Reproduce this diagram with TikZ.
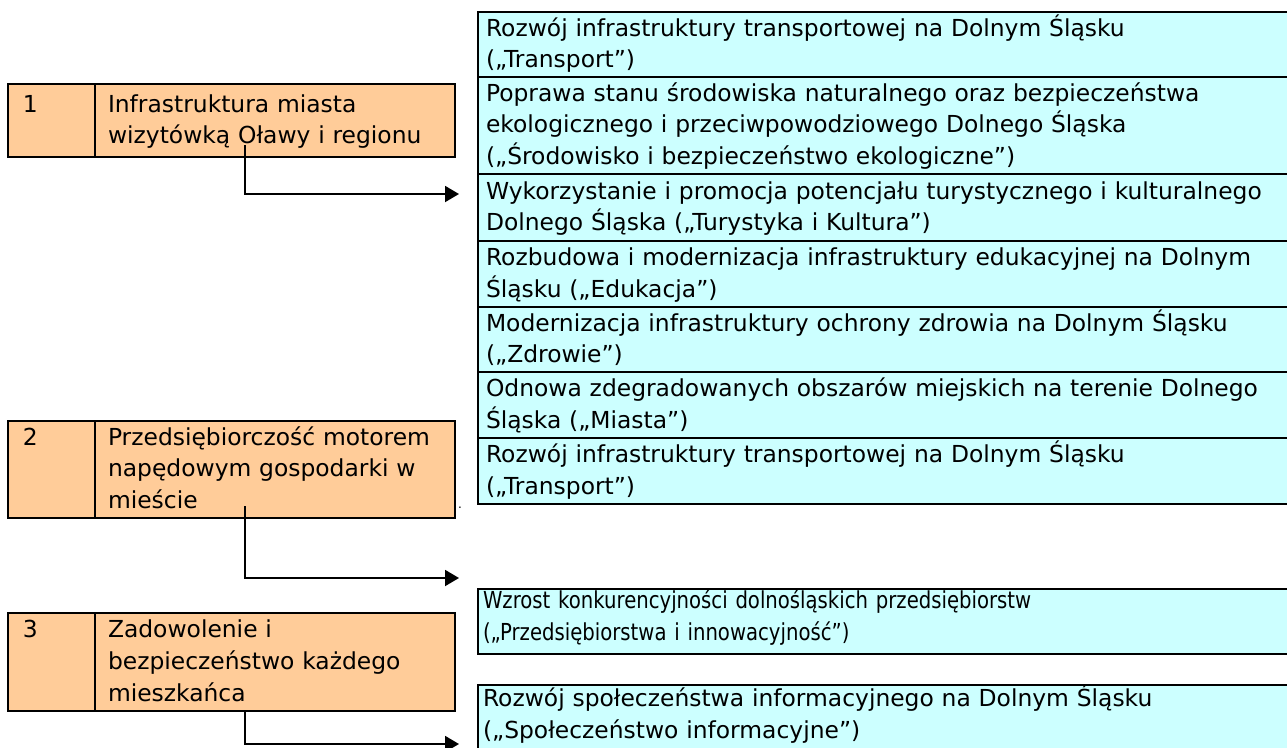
\documentclass[tikz,border=0pt]{standalone}
\usepackage{fontspec}
\setmainfont{DejaVu Sans}
\newfontfamily\condfont[FakeStretch=0.84]{DejaVu Sans}
\usetikzlibrary{arrows.meta}
\definecolor{boxorange}{HTML}{FFCC99}
\definecolor{boxcyan}{HTML}{CCFFFF}
\newcommand{\ls}{\rule[-8.5pt]{0pt}{31.8pt}}
\newcommand{\lb}{\rule[-12.8pt]{0pt}{31.8pt}}
\begin{document}
\begin{tikzpicture}[x=1pt,y=-1pt,
  every node/.style={font=\fontsize{23.4}{31.8}\selectfont, inner sep=0pt, outer sep=0pt},
  numcell/.style={draw, line width=1.9pt, fill=boxorange, anchor=north west, align=left,
    text width=57pt, inner xsep=15pt},
  goalcell/.style={draw, line width=1.9pt, fill=boxorange, anchor=north west, align=left,
    text width=334pt, inner xsep=13pt},
  prio/.style={draw, line width=1.8pt, fill=boxcyan, anchor=north west, align=left,
    text width=806pt, inner xsep=8pt},
  prioc/.style={draw, line width=1.8pt, fill=boxcyan, anchor=north west, align=left,
    text width=812pt, inner xsep=5pt, font=\condfont\fontsize{23.4}{31.8}\selectfont},
  prioplain/.style={draw, line width=1.8pt, fill=boxcyan, anchor=north west, align=left,
    text width=812pt, inner xsep=5pt},
  conn/.style={line width=1.9pt, -{Triangle[length=14pt,width=16pt]}}
]
\useasboundingbox (0,0) rectangle (1287,747);

% right column, upper stack
\node[prio, minimum height=65pt] (r1) at (478,12)
  {\ls Rozwój infrastruktury transportowej na Dolnym Śląsku\\\ls („Transport”)};
\node[prio, minimum height=97pt] (r2) at (478,77)
  {\ls Poprawa stanu środowiska naturalnego oraz bezpieczeństwa\\\ls ekologicznego i przeciwpowodziowego Dolnego Śląska\\\ls („Środowisko i bezpieczeństwo ekologiczne”)};
\node[prio, minimum height=67pt] (r3) at (478,174)
  {\ls Wykorzystanie i promocja potencjału turystycznego i kulturalnego\\\ls Dolnego Śląska („Turystyka i Kultura”)};
\node[prio, minimum height=66pt] (r4) at (478,241)
  {\ls Rozbudowa i modernizacja infrastruktury edukacyjnej na Dolnym\\\ls Śląsku („Edukacja”)};
\node[prio, minimum height=65pt] (r5) at (478,307)
  {\ls Modernizacja infrastruktury ochrony zdrowia na Dolnym Śląsku\\\ls („Zdrowie”)};
\node[prio, minimum height=66pt] (r6) at (478,372)
  {\ls Odnowa zdegradowanych obszarów miejskich na terenie Dolnego\\\ls Śląska („Miasta”)};
\node[prio, minimum height=66pt] (r7) at (478,438)
  {\ls Rozwój infrastruktury transportowej na Dolnym Śląsku\\\ls („Transport”)};

% right column, lower boxes
\node[prioc, minimum height=65pt] (b1) at (478,589)
  {\lb Wzrost konkurencyjności dolnośląskich przedsiębiorstw\\\lb („Przedsiębiorstwa i innowacyjność”)};
\node[prioplain, minimum height=80pt] (b2) at (478,685)
  {\lb Rozwój społeczeństwa informacyjnego na Dolnym Śląsku\\\lb („Społeczeństwo informacyjne”)\rule[-28.8pt]{0pt}{0pt}};

% left column
\node[numcell, minimum height=73pt] (n1) at (8,84) {\ls 1\\\ls};
\node[goalcell, minimum height=73pt] (t1) at (95,84)
  {\ls Infrastruktura miasta\\\ls wizytówką Oławy i regionu};
\node[numcell, minimum height=97pt] (n2) at (8,421) {\ls 2\\\ls\\\ls};
\node[goalcell, minimum height=97pt] (t2) at (95,421)
  {\ls Przedsiębiorczość motorem\\\ls napędowym gospodarki w\\\ls mieście};
\node[numcell, minimum height=98pt] (n3) at (8,613) {\ls 3\\\ls\\\ls};
\node[goalcell, minimum height=98pt] (t3) at (95,613)
  {\ls Zadowolenie i\\\ls bezpieczeństwo każdego\\\ls mieszkańca};

\node[font=\fontsize{12}{14}\selectfont, anchor=base] (dot) at (460,508) {.};

% connectors
\coordinate (e1) at (459,194);
\coordinate (e2) at (459,578);
\coordinate (e3) at (459,744);
\draw[conn] ([xshift=-30pt,yshift=12pt]t1.south) |- (e1);
\draw[conn] ([xshift=-30pt,yshift=12pt]t2.south) |- (e2);
\draw[conn] ([xshift=-30pt]t3.south) |- (e3);
\end{tikzpicture}
\end{document}
